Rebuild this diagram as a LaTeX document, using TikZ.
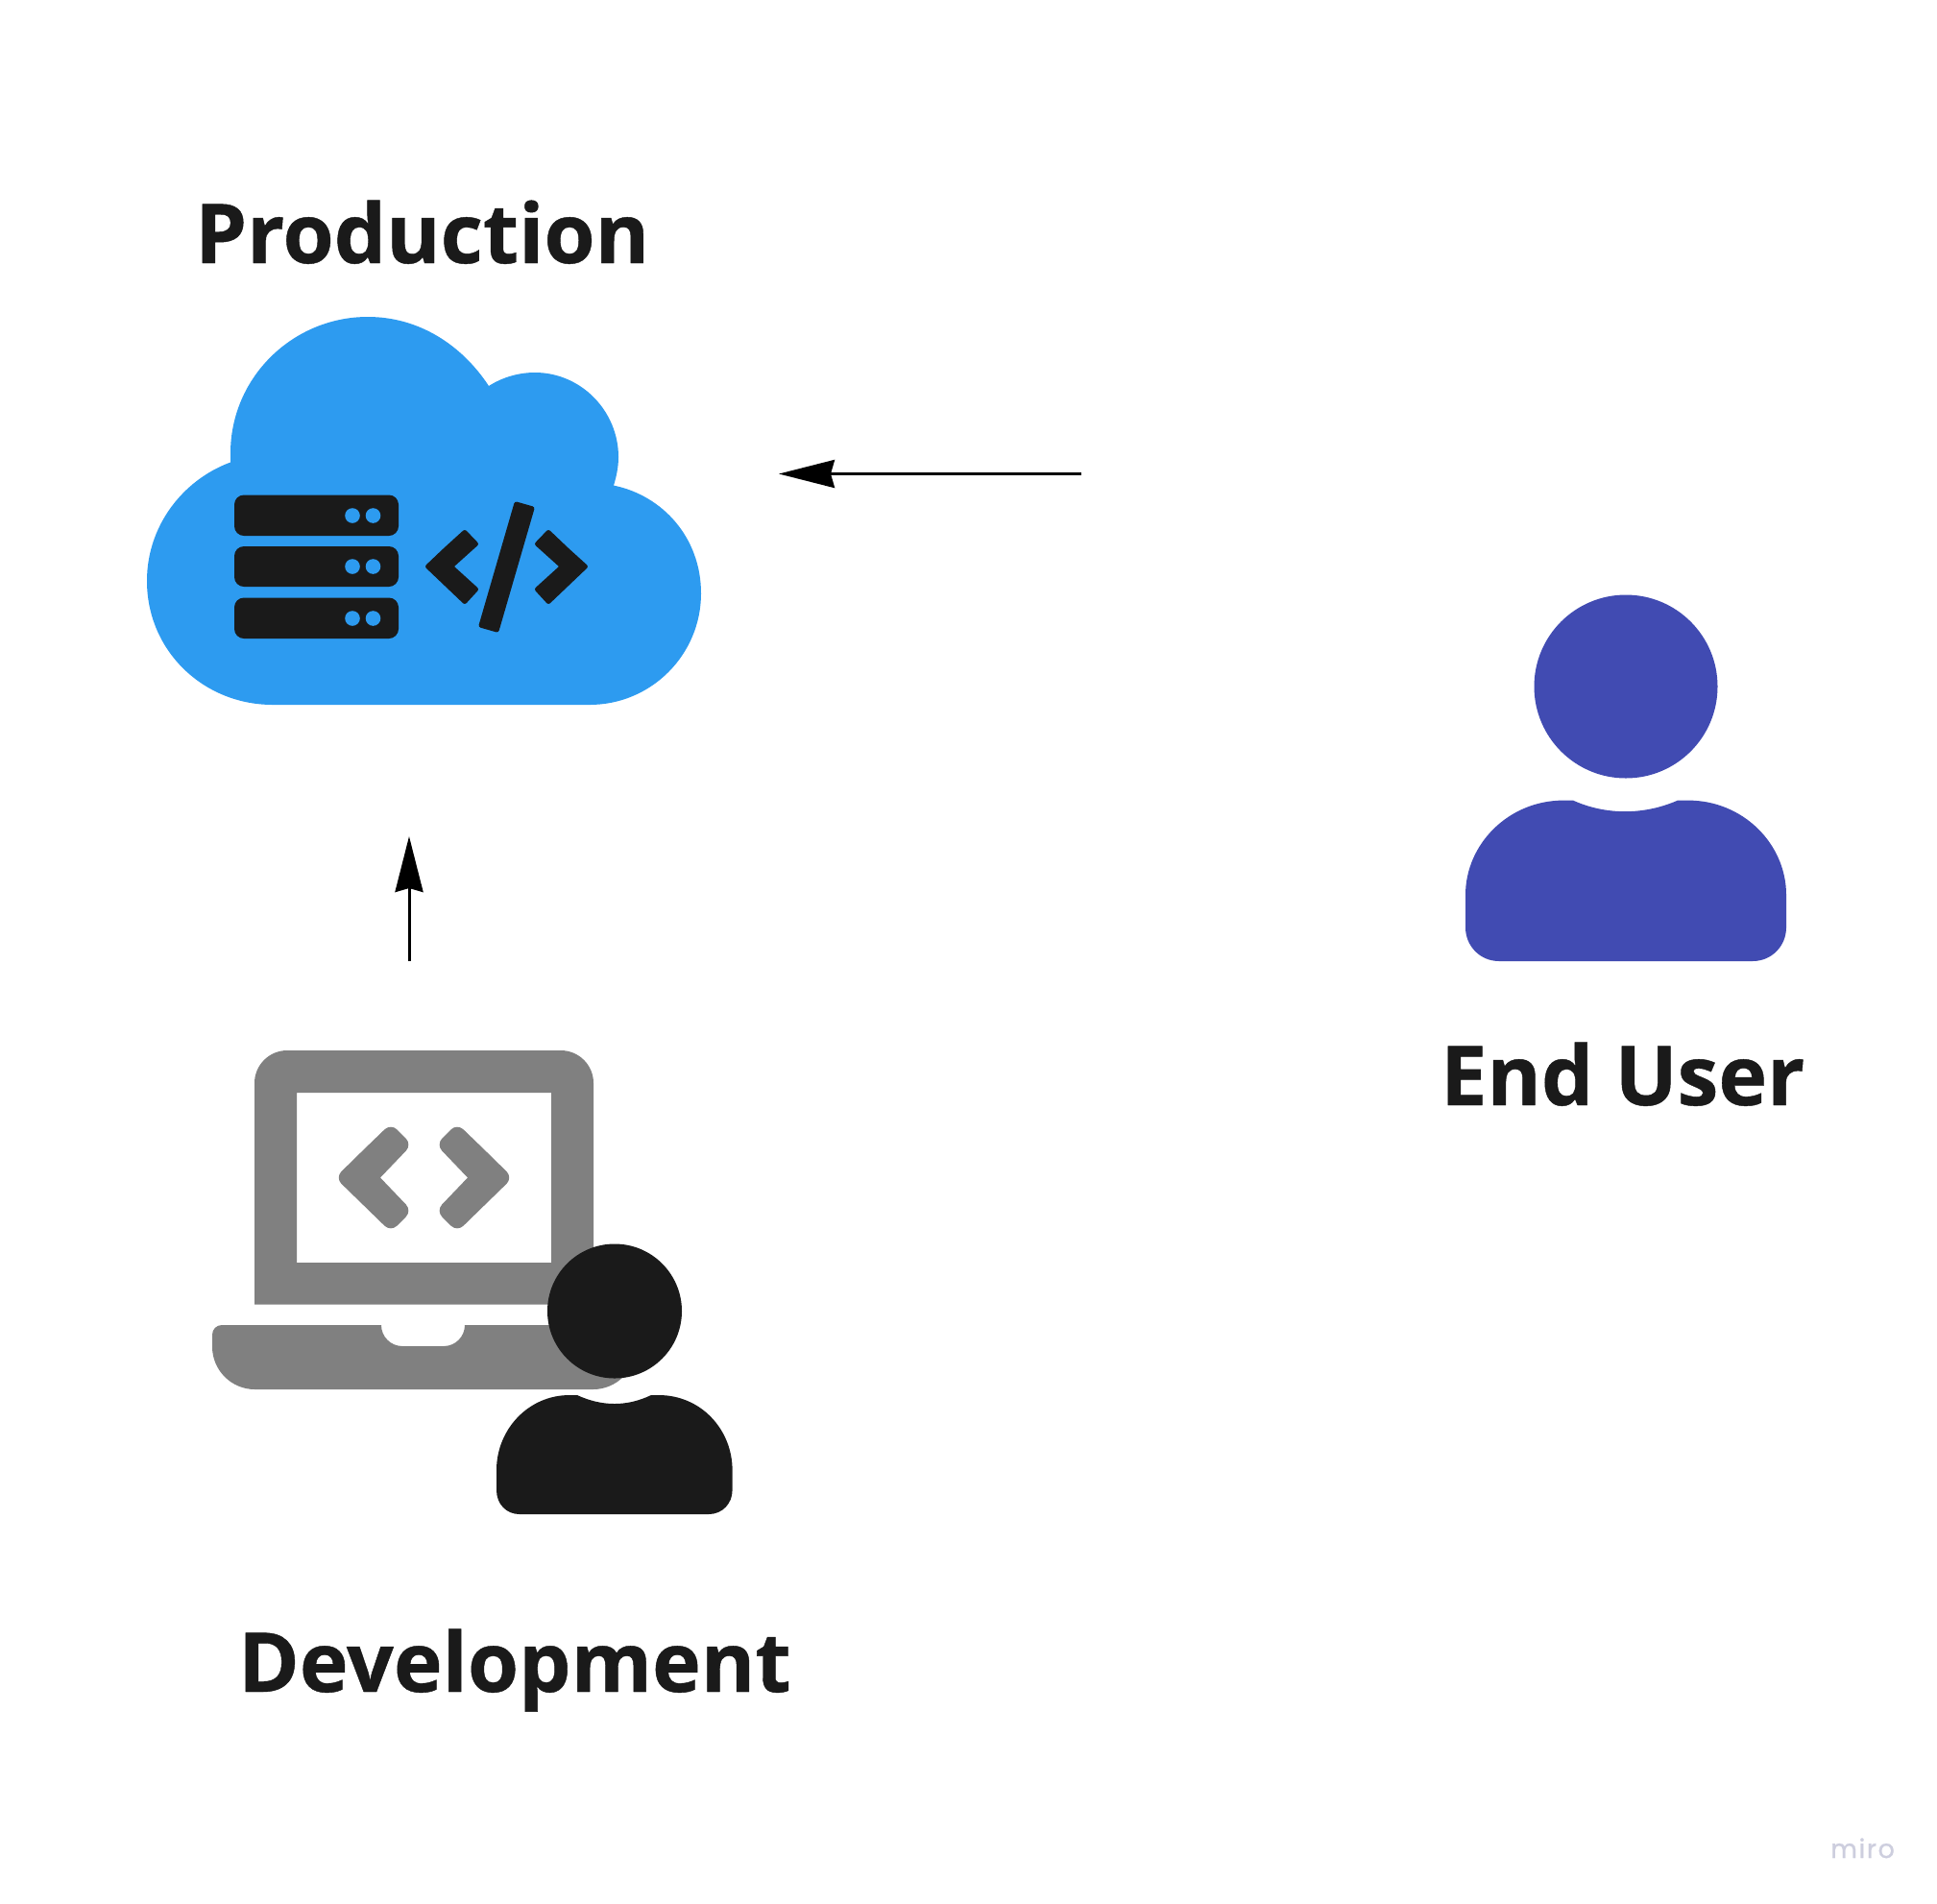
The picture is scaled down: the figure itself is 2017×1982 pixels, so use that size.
\documentclass[tikz,border=0pt]{standalone}
\usepackage{fontspec}
\usetikzlibrary{arrows.meta}
\setmainfont{Open Sans}
\newfontfamily\labelfont[BoldFeatures={FakeBold=0.5}]{Open Sans}
\newfontfamily\logofont[LetterSpace=6,FakeBold=0.8]{Poppins}
\definecolor{ink}{HTML}{1A1A1A}
\definecolor{cloudblue}{HTML}{2D9BF0}
\definecolor{userblue}{HTML}{414BB2}
\definecolor{laptopgray}{HTML}{808080}
\definecolor{logogray}{HTML}{CDCEDE}
\tikzset{
  title/.style={anchor=base west,inner sep=0pt,text=ink,font=\labelfont\bfseries\fontsize{86}{86}\selectfont},
  flow/.style={line width=3pt,-{Stealth[length=58pt,width=29pt,inset=4pt]}},
  rack/.style={fill=ink,rounded corners=10pt},
  dot/.style={fill=cloudblue}
}
\begin{document}
\begin{tikzpicture}[x=1pt,y=-1pt]
\useasboundingbox (0,0) rectangle (2017,1982);
\fill[white] (0,0) rectangle (2017,1982);
% cloud
\fill[cloudblue] (240,481.5) .. controls (190,500) and (153,548) .. (153,605)
  .. controls (153,678) and (212,734) .. (284,734) -- (614,734)
  .. controls (678,734) and (730,682) .. (730,618)
  .. controls (730,560) and (690,516) .. (639,505.6)
  .. controls (642,496) and (644,486) .. (644,476)
  .. controls (644,428) and (605,388) .. (557,388)
  .. controls (540,388) and (523,393) .. (509,402)
  .. controls (480,358) and (435,330) .. (383,330)
  .. controls (305,330) and (240,393) .. (240,472) -- cycle;
% server racks
\foreach \t/\b/\m in {515.5/558/537, 569/611/590, 622.5/665/644}{
  \fill[rack] (244,\t) rectangle (415,\b);
  \fill[dot] (367,\m) circle (7.8);
  \fill[dot] (388.5,\m) circle (7.8);
}
% code symbol
\fill[ink] (462,571) [rounded corners=2.5pt] -- (484,551) -- (499,566.6) [sharp corners] -- (473,590) [rounded corners=2.5pt] -- (499,613.6) -- (484,630) -- (442,590) -- cycle;
\fill[ink] (592,571) [rounded corners=2.5pt] -- (571,551) -- (556,566.6) [sharp corners] -- (582,590) [rounded corners=2.5pt] -- (556,613.6) -- (571,630) -- (613,590) -- cycle;
\fill[ink,rounded corners=2.5pt] (536,522) -- (557,528) -- (519,659) -- (498,653) -- cycle;
% laptop
\fill[laptopgray,even odd rule] (265,1358.5) -- (265,1128) arc[start angle=180,end angle=270,radius=34]
  -- (584,1094) arc[start angle=270,end angle=360,radius=34] -- (618,1358.5) -- cycle
  (309,1138) rectangle (574,1315);
\fill[laptopgray] (231,1380) -- (397,1380) arc[start angle=180,end angle=90,radius=22]
  -- (462,1402) arc[start angle=90,end angle=0,radius=22] -- (662,1380)
  -- (662,1402.5) arc[start angle=0,end angle=90,radius=44.5] -- (265.5,1447)
  arc[start angle=90,end angle=180,radius=44.5] -- (221,1390)
  arc[start angle=180,end angle=270,radius=10] -- cycle;
\fill[laptopgray] (378,1198) [rounded corners=9pt] -- (407,1170) -- (429,1192) [sharp corners] -- (396,1226.5) [rounded corners=9pt] -- (429,1261) -- (407,1283) -- (349,1226.5) -- cycle;
\fill[laptopgray] (505,1198) [rounded corners=9pt] -- (476,1170) -- (454,1192) [sharp corners] -- (487,1226.5) [rounded corners=9pt] -- (454,1261) -- (476,1283) -- (534,1226.5) -- cycle;
% developer
\fill[ink] (640,1365.5) circle (70);
\fill[ink] (601,1453) .. controls (627,1465) and (653,1465) .. (678,1453) -- (686,1453)
  .. controls (730,1453) and (762.6,1489) .. (762.6,1531) -- (762.6,1552)
  .. controls (762.6,1566) and (752,1577) .. (738,1577) -- (541,1577)
  .. controls (527,1577) and (517,1566) .. (517,1552) -- (517,1531)
  .. controls (517,1489) and (550,1453) .. (593,1453) -- cycle;
% end user
\fill[userblue] (1693,715) circle (95.5);
\fill[userblue] (1638,833.6) .. controls (1672,849) and (1712,849) .. (1747,833.6) -- (1758,833.6)
  .. controls (1815,833.6) and (1860,879) .. (1860,932) -- (1860,966)
  .. controls (1860,985) and (1845,1001) .. (1825,1001) -- (1561,1001)
  .. controls (1541,1001) and (1526,985) .. (1526,966) -- (1526,932)
  .. controls (1526,879) and (1571,833.6) .. (1628,833.6) -- cycle;
% labels
\node[title] (production) at (203,274) {Production};
\node[title] (enduser) at (1500,1151) {End User};
\node[title] (development) at (248,1762) {Development};
\node[anchor=base west,inner sep=0pt,text=logogray,font=\logofont\fontsize{27}{27}\selectfont] (miro) at (1906,1935) {miro};
% connectors
\coordinate (userout) at (1126,493.5);
\coordinate (cloudin) at (811,493.5);
\coordinate (devout) at (426,1001);
\coordinate (cloudbelow) at (426,871);
\draw[flow] (userout) -- (cloudin);
\draw[flow] (devout) -- (cloudbelow);
\end{tikzpicture}
\end{document}
